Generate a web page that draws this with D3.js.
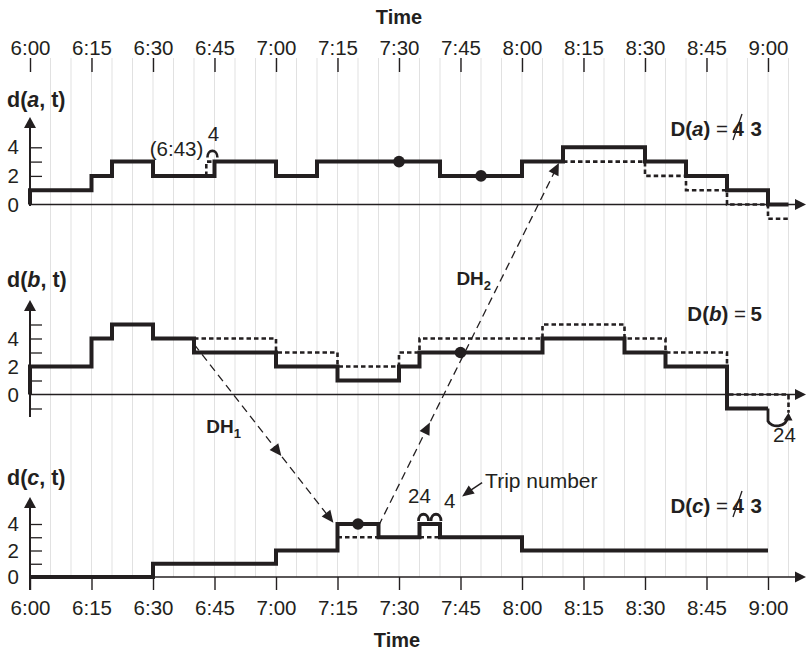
<!DOCTYPE html>
<html>
<head>
<meta charset="utf-8">
<script src="https://cdn.jsdelivr.net/npm/d3@7"></script>
<style>
  body { margin: 0; background: #fff; }
  text { font-family: "Liberation Sans", Arial, Helvetica, sans-serif; fill: #231f20; }
</style>
</head>
<body>
<svg id="chart" width="806" height="654"></svg>
<script>
// ---- data -------------------------------------------------------------
const timeTicks = ["6:00","6:15","6:30","6:45","7:00","7:15","7:30","7:45","8:00","8:15","8:30","8:45","9:00"];
const gridEnd = "9:05";

// deficit functions d(k, t): [time, value] change points (step after)
const deficitA = [["6:00",0],["6:00",1],["6:15",2],["6:20",3],["6:30",2],["6:45",3],["7:00",2],["7:10",3],["7:40",2],["8:00",3],["8:10",4],["8:30",3],["8:40",2],["8:50",1],["9:00",0],["9:05",0]];
const deficitB = [["6:00",0],["6:00",2],["6:15",4],["6:20",5],["6:30",4],["6:40",3],["7:00",2],["7:15",1],["7:30",2],["7:35",3],["8:05",4],["8:25",3],["8:35",2],["8:50",-1],["9:00",-1]];
const deficitC = [["6:00",0],["6:30",1],["7:00",2],["7:15",4],["7:25",3],["7:35",4],["7:40",3],["8:00",2],["9:00",2]];

// deficit functions before deadheading / shifting (dotted)
const originalA = [
  [["6:43",2],["6:43",3],["6:45",3]],
  [["8:10",3],["8:30",2],["8:40",1],["8:50",0],["9:00",-1],["9:05",-1]]
];
const originalB = [
  [["6:40",4],["7:00",3],["7:15",2],["7:30",3],["7:35",4],["8:05",5],["8:25",4],["8:35",3],["8:50",0],["9:05",0],["9:05",-1.3]]
];
const originalC = [
  [["7:15",3],["7:25",3]],
  [["7:35",3],["7:40",3]]
];

// marked events on each deficit function
const eventsA = [["7:30",3],["7:50",2]];
const eventsB = [["7:45",3]];
const eventsC = [["7:20",4]];

// fleet size per terminal: [struck value, final value]
const fleetA = ["4","3"];
const fleetB = [null,"5"];
const fleetC = ["4","3"];

// deadheading trips
const deadheads = [
  {name: "DH", sub: "1", from: ["b","6:40",3.6], to: ["c","7:14",4.1], mid: 0.6},
  {name: "DH", sub: "2", from: ["c","7:25",3.85], to: ["a","8:09",2.9], mid: 0.27}
];

// ---- layout -----------------------------------------------------------
const svg = d3.select("#chart");
const ink = "#231f20";
const toMin = s => { const [h, m] = s.split(":").map(Number); return (h - 6) * 60 + m; };

const x = d3.scaleLinear().domain([0, 180]).range([30, 768]);

const panels = {
  a: {title: "a", zero: 204.5, unit: 14.3, ticks: [1,2,3,4], top: 117, bottom: 206,
      solid: deficitA, dotted: originalA, events: eventsA, fleet: fleetA, titleY: 107, legendY: 136},
  b: {title: "b", zero: 394.5, unit: 14.0, ticks: [-1,1,2,3,4,5], top: 300, bottom: 417,
      solid: deficitB, dotted: originalB, events: eventsB, fleet: fleetB, titleY: 287, legendY: 321},
  c: {title: "c", zero: 577, unit: 13.25, ticks: [1,2,3,4], top: 497, bottom: 590,
      solid: deficitC, dotted: originalC, events: eventsC, fleet: fleetC, titleY: 485, legendY: 513}
};
Object.values(panels).forEach(p => {
  p.y = d3.scaleLinear().domain([0, 4]).range([p.zero, p.zero - 4 * p.unit]);
});

// vertical grid every 5 minutes
svg.append("g")
  .selectAll("line")
  .data(d3.range(5, toMin(gridEnd) + 1, 5))
  .join("line")
  .attr("x1", d => x(d)).attr("x2", d => x(d))
  .attr("y1", 58).attr("y2", panels.c.zero)
  .attr("stroke", "#e1e1e1").attr("stroke-width", 1);

// top time axis
const tickMins = timeTicks.map(toMin);
const topAxis = svg.append("g")
  .attr("transform", "translate(0,72)")
  .call(d3.axisTop(x).tickValues(tickMins).tickFormat((d, i) => timeTicks[i]).tickSize(14).tickPadding(3));
topAxis.select(".domain").remove();

// bottom time axis
const bottomAxis = svg.append("g")
  .attr("transform", `translate(0,${panels.c.zero})`)
  .call(d3.axisBottom(x).tickValues(tickMins).tickFormat((d, i) => timeTicks[i]).tickSize(13).tickPadding(10));
bottomAxis.select(".domain").remove();

[topAxis, bottomAxis].forEach(a => {
  a.attr("font-family", null).attr("font-size", null);
  a.selectAll(".tick line").attr("stroke", ink).attr("stroke-width", 1.4);
  a.selectAll(".tick text").attr("font-size", 20.5).attr("fill", ink);
});

svg.append("text").attr("x", 399).attr("y", 24).attr("text-anchor", "middle")
  .attr("font-size", 20).attr("font-weight", "bold").text("Time");
svg.append("text").attr("x", 397).attr("y", 647).attr("text-anchor", "middle")
  .attr("font-size", 20).attr("font-weight", "bold").text("Time");

const tri = (pts) => "M" + pts.map(p => p.join(",")).join("L") + "Z";

Object.values(panels).forEach(p => {
  const g = svg.append("g");
  const y = p.y;

  // time axis line at zero with arrow
  g.append("line").attr("x1", 30).attr("x2", 798).attr("y1", y(0)).attr("y2", y(0))
    .attr("stroke", ink).attr("stroke-width", 1.5);
  g.append("path").attr("d", tri([[806, y(0)], [795, y(0) - 5.5], [795, y(0) + 5.5]])).attr("fill", ink);

  // deficit axis with arrow
  g.append("line").attr("x1", 30).attr("x2", 30).attr("y1", p.bottom).attr("y2", p.top + 8)
    .attr("stroke", ink).attr("stroke-width", 2);
  g.append("path").attr("d", tri([[30, p.top], [24, p.top + 11], [36, p.top + 11]])).attr("fill", ink);

  const yAxis = g.append("g").attr("transform", "translate(30,0)")
    .call(d3.axisLeft(y).tickValues(p.ticks.concat([0])).tickSize(-12).tickPadding(11)
      .tickFormat(v => (v === 0 || v === 2 || v === 4) ? v : ""));
  yAxis.attr("font-family", null).attr("font-size", null);
  yAxis.select(".domain").remove();
  yAxis.selectAll(".tick line").attr("stroke", ink).attr("stroke-width", 1.3)
    .filter(v => v === 0).remove();
  yAxis.selectAll(".tick text").attr("font-size", 20.5).attr("fill", ink);

  // panel title d(k, t)
  const t = g.append("text").attr("x", 7).attr("y", p.titleY).attr("font-size", 21.5).attr("font-weight", "bold");
  t.append("tspan").text("d(");
  t.append("tspan").attr("font-style", "italic").text(p.title);
  t.append("tspan").text(", t)");

  const line = d3.line().x(d => x(toMin(d[0]))).y(d => y(d[1])).curve(d3.curveStepAfter);

  g.selectAll("path.orig").data(p.dotted).join("path").attr("class", "orig")
    .attr("d", line).attr("fill", "none").attr("stroke", ink)
    .attr("stroke-width", 2.6).attr("stroke-dasharray", "4.5,3");

  g.append("path").datum(p.solid).attr("d", line).attr("fill", "none")
    .attr("stroke", ink).attr("stroke-width", 4).attr("stroke-linejoin", "miter");

  g.selectAll("circle").data(p.events).join("circle")
    .attr("cx", d => x(toMin(d[0]))).attr("cy", d => y(d[1])).attr("r", 5.8).attr("fill", ink);

  // fleet size D(k)
  const lx = 762, ly = p.legendY;
  g.append("text").attr("x", lx).attr("y", ly).attr("text-anchor", "end")
    .attr("font-size", 20.5).attr("font-weight", "bold").text(p.fleet[1]);
  let eqEnd = lx - 16;
  if (p.fleet[0]) {
    g.append("text").attr("x", lx - 18).attr("y", ly).attr("text-anchor", "end")
      .attr("font-size", 20.5).attr("font-weight", "bold").text(p.fleet[0]);
    g.append("line").attr("x1", lx - 29).attr("y1", ly + 4).attr("x2", lx - 20).attr("y2", ly - 22)
      .attr("stroke", ink).attr("stroke-width", 1.3);
    eqEnd = lx - 34;
  }
  const lt = g.append("text").attr("x", eqEnd).attr("y", ly).attr("text-anchor", "end")
    .attr("font-size", 20.5);
  lt.append("tspan").attr("font-weight", "bold").text("D(");
  lt.append("tspan").attr("font-weight", "bold").attr("font-style", "italic").text(p.title);
  lt.append("tspan").attr("font-weight", "bold").text(")");
  lt.append("tspan").text(" = ");
});

// deadheading trips: dashed arrows between terminals
deadheads.forEach(dh => {
  const [pa, ta, va] = dh.from, [pb, tb, vb] = dh.to;
  const x1 = x(toMin(ta)), y1 = panels[pa].y(va);
  const x2 = x(toMin(tb)), y2 = panels[pb].y(vb);
  const ang = Math.atan2(y2 - y1, x2 - x1);
  svg.append("line").attr("x1", x1).attr("y1", y1).attr("x2", x2 - 9 * Math.cos(ang)).attr("y2", y2 - 9 * Math.sin(ang))
    .attr("stroke", ink).attr("stroke-width", 1.3).attr("stroke-dasharray", "8,5");
  const head = (hx, hy) => {
    const L = 12, W = 5.5;
    const bx = hx - L * Math.cos(ang), by = hy - L * Math.sin(ang);
    return tri([[hx, hy], [bx + W * Math.sin(ang), by - W * Math.cos(ang)], [bx - W * Math.sin(ang), by + W * Math.cos(ang)]]);
  };
  svg.append("path").attr("d", head(x2, y2)).attr("fill", ink);
  const mx = x1 + (x2 - x1) * dh.mid + 6 * Math.cos(ang), my = y1 + (y2 - y1) * dh.mid + 6 * Math.sin(ang);
  svg.append("path").attr("d", head(mx, my)).attr("fill", ink);
});

// deadhead labels
const dhLabel = (px, py, dh) => {
  const t = svg.append("text").attr("x", px).attr("y", py).attr("font-size", 19).attr("font-weight", "bold");
  t.append("tspan").text(dh.name);
  t.append("tspan").attr("font-size", 13).attr("dy", 5).text(dh.sub);
};
dhLabel(x(toMin("6:43")), panels.b.y(-2.75), deadheads[0]);
dhLabel(x(toMin("7:44")), panels.b.y(7.8), deadheads[1]);

// trip-number loops
const loop = (cx, cy, up) => {
  const p = d3.path();
  const s = up ? -1 : 1;
  p.moveTo(cx - 5, cy);
  p.bezierCurveTo(cx - 5, cy + s * 9, cx + 5, cy + s * 9, cx + 5, cy);
  return p.toString();
};
const ya = panels.a.y, yb = panels.b.y, yc = panels.c.y;

// terminal a, 6:43 shift
svg.append("path").attr("d", loop(x(toMin("6:44")) + 2, ya(3) - 4, true))
  .attr("fill", "none").attr("stroke", ink).attr("stroke-width", 2.6);
svg.append("text").attr("x", x(toMin("6:43")) - 3).attr("y", ya(3) - 6).attr("text-anchor", "end")
  .attr("font-size", 20.5).text("(6:43)");
svg.append("text").attr("x", x(toMin("6:44")) + 3).attr("y", ya(3) - 21).attr("text-anchor", "middle")
  .attr("font-size", 20.5).text("4");

// terminal b, trip 24 at 9:00
svg.append("path").attr("d", (() => {
  const p = d3.path();
  const x0 = x(toMin("9:00")), x1 = x(toMin("9:05"));
  p.moveTo(x0, yb(-1));
  p.lineTo(x0, yb(-1.9));
  p.bezierCurveTo(x0 + 3, yb(-2.4), x1 - 2, yb(-2.4), x1 - 1, yb(-1.6));
  return p.toString();
})()).attr("fill", "none").attr("stroke", ink).attr("stroke-width", 2.8);
svg.append("path").attr("d", tri([[x(toMin("9:05")), yb(-1.3)], [x(toMin("9:05")) - 5, yb(-1.85)], [x(toMin("9:05")) + 4, yb(-1.85)]])).attr("fill", ink);
svg.append("text").attr("x", x(toMin("9:04"))).attr("y", yb(-3.4)).attr("text-anchor", "middle")
  .attr("font-size", 20.5).text("24");

// terminal c, trips 24 and 4
svg.append("path").attr("d", loop(x(toMin("7:35")) + 4, yc(4) - 3, true))
  .attr("fill", "none").attr("stroke", ink).attr("stroke-width", 2.8);
svg.append("path").attr("d", loop(x(toMin("7:40")) - 4, yc(4) - 3, true))
  .attr("fill", "none").attr("stroke", ink).attr("stroke-width", 2.8);
svg.append("text").attr("x", x(toMin("7:35"))).attr("y", yc(5.6)).attr("text-anchor", "middle")
  .attr("font-size", 20.5).text("24");
svg.append("text").attr("x", x(toMin("7:41"))).attr("y", yc(5.2))
  .attr("font-size", 20.5).text("4");

// trip number pointer
const tx = x(toMin("7:51")), ty = yc(7.2);
svg.append("line").attr("x1", tx - 3).attr("y1", ty + 1).attr("x2", tx - 15).attr("y2", ty + 9)
  .attr("stroke", ink).attr("stroke-width", 1.4);
svg.append("path").attr("d", (() => {
  const hx = tx - 23, hy = ty + 15, ang = Math.atan2(9, -12);
  const L = 12, W = 5;
  const bx = hx - L * Math.cos(ang), by = hy - L * Math.sin(ang);
  return tri([[hx, hy], [bx + W * Math.sin(ang), by - W * Math.cos(ang)], [bx - W * Math.sin(ang), by + W * Math.cos(ang)]]);
})()).attr("fill", ink);
svg.append("text").attr("x", tx).attr("y", ty + 6).attr("font-size", 21).text("Trip number");
</script>
</body>
</html>
